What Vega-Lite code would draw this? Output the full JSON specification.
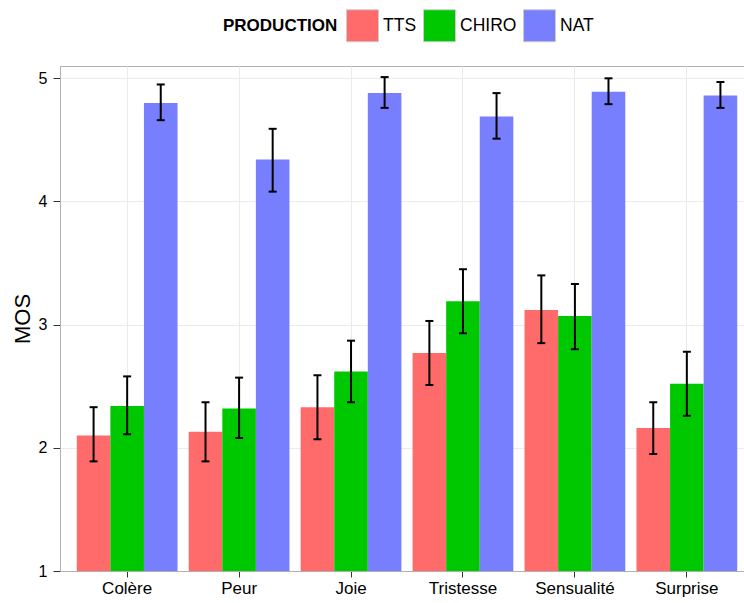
{
  "$schema": "https://vega.github.io/schema/vega-lite/v6.json",
  "autosize": "none",
  "padding": {"left": 60, "top": 66, "right": 0, "bottom": 32},
  "width": 694,
  "height": 505,
  "background": "white",
  "config": {
    "font": "Liberation Sans",
    "view": {"stroke": "#b0b0b0", "strokeWidth": 1}
  },
  "data": {
    "values": [
      {"emotion": "Colère", "production": "TTS", "mos": 2.10, "lo": 1.89, "hi": 2.33},
      {"emotion": "Colère", "production": "CHIRO", "mos": 2.34, "lo": 2.11, "hi": 2.58},
      {"emotion": "Colère", "production": "NAT", "mos": 4.80, "lo": 4.66, "hi": 4.95},
      {"emotion": "Peur", "production": "TTS", "mos": 2.13, "lo": 1.89, "hi": 2.37},
      {"emotion": "Peur", "production": "CHIRO", "mos": 2.32, "lo": 2.08, "hi": 2.57},
      {"emotion": "Peur", "production": "NAT", "mos": 4.34, "lo": 4.08, "hi": 4.59},
      {"emotion": "Joie", "production": "TTS", "mos": 2.33, "lo": 2.07, "hi": 2.59},
      {"emotion": "Joie", "production": "CHIRO", "mos": 2.62, "lo": 2.37, "hi": 2.87},
      {"emotion": "Joie", "production": "NAT", "mos": 4.88, "lo": 4.76, "hi": 5.01},
      {"emotion": "Tristesse", "production": "TTS", "mos": 2.77, "lo": 2.51, "hi": 3.03},
      {"emotion": "Tristesse", "production": "CHIRO", "mos": 3.19, "lo": 2.93, "hi": 3.45},
      {"emotion": "Tristesse", "production": "NAT", "mos": 4.69, "lo": 4.51, "hi": 4.88},
      {"emotion": "Sensualité", "production": "TTS", "mos": 3.12, "lo": 2.85, "hi": 3.40},
      {"emotion": "Sensualité", "production": "CHIRO", "mos": 3.07, "lo": 2.80, "hi": 3.33},
      {"emotion": "Sensualité", "production": "NAT", "mos": 4.89, "lo": 4.79, "hi": 5.00},
      {"emotion": "Surprise", "production": "TTS", "mos": 2.16, "lo": 1.95, "hi": 2.37},
      {"emotion": "Surprise", "production": "CHIRO", "mos": 2.52, "lo": 2.26, "hi": 2.78},
      {"emotion": "Surprise", "production": "NAT", "mos": 4.86, "lo": 4.76, "hi": 4.97}
    ]
  },
  "encoding": {
    "x": {
      "field": "emotion",
      "type": "nominal",
      "sort": ["Colère", "Peur", "Joie", "Tristesse", "Sensualité", "Surprise"],
      "scale": {"paddingInner": 0.1, "paddingOuter": 0.15},
      "axis": {
        "title": null,
        "labelAngle": 0,
        "labelFontSize": 17,
        "labelColor": "#000000",
        "labelPadding": 3,
        "tickSize": 6,
        "tickColor": "#333333",
        "domainColor": "#b0b0b0",
        "grid": true,
        "gridColor": "#ebebeb",
        "bandPosition": 0.5
      }
    },
    "xOffset": {
      "field": "production",
      "type": "nominal",
      "sort": ["TTS", "CHIRO", "NAT"],
      "scale": {"paddingInner": 0, "paddingOuter": 0}
    }
  },
  "layer": [
    {
      "mark": {"type": "bar"},
      "encoding": {
        "y": {
          "field": "mos",
          "type": "quantitative",
          "scale": {"domain": [1, 5.1], "nice": false, "zero": false},
          "axis": {
            "title": "MOS",
            "titleFontSize": 22,
            "titleFontWeight": "normal",
            "titleColor": "#000000",
            "titlePadding": 4,
            "values": [1, 1.5, 2, 2.5, 3, 3.5, 4, 4.5, 5],
            "format": "d",
            "labelExpr": "datum.value % 1 === 0 ? format(datum.value, 'd') : ''",
            "labelFontSize": 16,
            "labelColor": "#000000",
            "labelPadding": 6,
            "tickSize": 7,
            "tickColor": "#333333",
            "tickOpacity": {"condition": {"test": "datum.value % 1 !== 0", "value": 0}, "value": 1},
            "domainColor": "#b0b0b0",
            "grid": true,
            "gridColor": {"condition": {"test": "datum.value % 1 !== 0", "value": "#f4f4f4"}, "value": "#ebebeb"}
          }
        },
        "y2": {"datum": 1},
        "color": {
          "field": "production",
          "type": "nominal",
          "sort": ["TTS", "CHIRO", "NAT"],
          "scale": {"domain": ["TTS", "CHIRO", "NAT"], "range": ["#FF6B6B", "#00C800", "#777FFF"]},
          "legend": {
            "title": "PRODUCTION",
            "orient": "none",
            "legendX": 163,
            "legendY": -57,
            "direction": "horizontal",
            "titleOrient": "left",
            "titleFontSize": 17,
            "titleFontWeight": "bold",
            "titleColor": "#000000",
            "titlePadding": 8,
            "titleBaseline": "middle",
            "symbolType": "square",
            "symbolSize": 1024,
            "symbolStrokeColor": "#cccccc",
            "symbolStrokeWidth": 1,
            "symbolOpacity": 1,
            "labelFontSize": 17.5,
            "labelColor": "#000000",
            "labelOffset": 4,
            "columnPadding": 4
          }
        }
      }
    },
    {
      "mark": {"type": "rule", "color": "#000000", "strokeWidth": 2},
      "encoding": {
        "y": {"field": "lo", "type": "quantitative"},
        "y2": {"field": "hi"}
      }
    },
    {
      "mark": {"type": "tick", "color": "#000000", "thickness": 2, "size": 8, "opacity": 1},
      "encoding": {
        "y": {"field": "lo", "type": "quantitative"}
      }
    },
    {
      "mark": {"type": "tick", "color": "#000000", "thickness": 2, "size": 8, "opacity": 1},
      "encoding": {
        "y": {"field": "hi", "type": "quantitative"}
      }
    }
  ]
}
